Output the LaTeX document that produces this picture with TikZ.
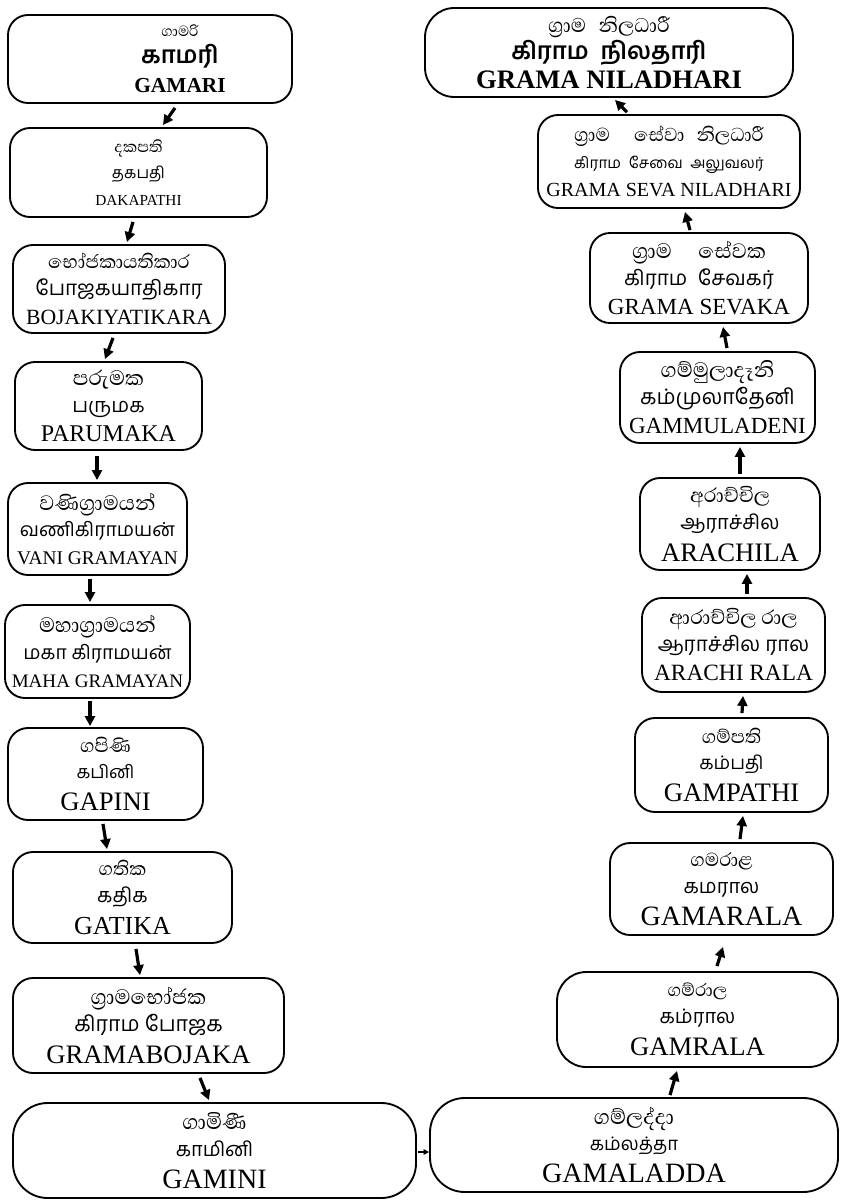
\documentclass[tikz,border=0pt]{standalone}
\usepackage{fontspec}
\setmainfont{Liberation Serif}
\newfontfamily\si[Script=Sinhala]{Abhaya Libre}
\newfontfamily\ta[Script=Tamil]{Hind Madurai}
\newcommand\fs[1]{\fontsize{#1}{#1}\selectfont}
\usetikzlibrary{calc,arrows.meta}

\begin{document}
\begin{tikzpicture}[x=0.75pt,y=-0.75pt,
  rank/.style={draw, line width=1.4pt, rounded corners=15pt, align=center, inner sep=0pt,
    font=\fontsize{10}{20}\selectfont},
  flow/.style={line width=2.4pt, -{Triangle[length=7.5pt,width=7.5pt]}}]
 \useasboundingbox (0,0) rectangle (840,1200);
 % left column, going down
 \node[rank, minimum width=213pt, minimum height=66pt] (gamari) at (150,59)
   {\hspace*{45pt}{\si\fs{14}ගාමරි}\\\hspace*{45pt}{\ta\bfseries\fs{18}காமரி}\\[2pt]\hspace*{45pt}{\bfseries\fs{16}GAMARI}};
 \node[rank, minimum width=192.75pt, minimum height=66.75pt] (dakapathi) at (138.5,172.5)
   {{\si\fs{15}දකපති}\\{\ta\fs{12}தகபதி}\\{\fs{11.5}DAKAPATHI}};
 \node[rank, minimum width=159pt, minimum height=66pt] (bojaka) at (119,289)
   {{\si\fs{18}භෝජකායතිකාර}\\{\ta\fs{15.5}போஜகயாதிகார}\\[2pt]{\fs{16.3}BOJAKIYATIKARA}};
 \node[rank, minimum width=140.25pt, minimum height=66pt] (parumaka) at (108.5,406)
   {{\si\fs{20}පරුමක}\\{\ta\fs{15}பருமக}\\[2pt]{\fs{18}PARUMAKA}};
 \node[rank, minimum width=134.25pt, minimum height=69pt] (vani) at (97.5,529)
   {{\si\fs{20}වණිග්‍රාමයන්}\\{\ta\fs{14.5}வணிகிராமயன்}\\[1pt]{\fs{14.5}VANI GRAMAYAN}};
 \node[rank, minimum width=138.75pt, minimum height=69.75pt] (maha) at (97.5,651.5)
   {{\si\fs{20}මහාග්‍රාමයන්}\\{\ta\fs{14.5}மகா கிராமயன்}\\[1pt]{\fs{14.3}MAHA GRAMAYAN}};
 \node[rank, minimum width=146.25pt, minimum height=69pt] (gapini) at (105.5,774)
   {{\si\fs{18}ගපිණි}\\{\ta\fs{13.5}கபினி}\\[4pt]{\fs{20}GAPINI}};
 \node[rank, minimum width=164.25pt, minimum height=68.25pt] (gatika) at (122.5,897.5)
   {{\si\fs{18}ගතික}\\{\ta\fs{15}கதிக}\\[4pt]{\fs{19.5}GATIKA}};
 \node[rank, minimum width=203.25pt, minimum height=71.25pt] (gramabojaka) at (148.5,1025.5)
   {{\si\fs{20}ග්‍රාමභෝජක}\\{\ta\fs{16}கிராம போஜக}\\[4pt]{\fs{20}GRAMABOJAKA}};
 \node[rank, rounded corners=26pt, minimum width=302.25pt, minimum height=71.25pt] (gamini) at (214.5,1150.5)
   {{\si\fs{20}ගාමිණී}\\{\ta\fs{15}காமினி}\\[4pt]{\fs{21}GAMINI}};
 % right column, going up
 \node[rank, rounded corners=26pt, minimum width=306pt, minimum height=70.5pt] (gamaladda) at (634,1145)
   {{\si\fs{20}ගම්ලද්දා}\\{\ta\fs{14}கம்லத்தா}\\[4pt]{\fs{21}GAMALADDA}};
 \node[rank, rounded corners=22pt, minimum width=210.75pt, minimum height=71.25pt] (gamrala) at (697.5,1019.5)
   {{\si\fs{17}ගම්රාල}\\{\ta\fs{15}கம்ரால}\\[4pt]{\fs{20}GAMRALA}};
 \node[rank, minimum width=167.25pt, minimum height=69pt] (gamarala) at (721.5,889)
   {{\si\fs{18}ගමරාළ}\\{\ta\fs{15}கமரால}\\[4pt]{\fs{21}GAMARALA}};
 \node[rank, minimum width=144.75pt, minimum height=70.5pt] (gampathi) at (731.5,765)
   {{\si\fs{18}ගම්පති}\\{\ta\fs{14}கம்பதி}\\[4pt]{\fs{20}GAMPATHI}};
 \node[rank, minimum width=137.25pt, minimum height=70.5pt] (arachirala) at (733.5,645)
   {{\si\fs{19}ආරාච්චිල රාල}\\{\ta\fs{15.5}ஆராச்சில ரால}\\[2pt]{\fs{17.5}ARACHI RALA}};
 \node[rank, minimum width=135pt, minimum height=69pt] (arachila) at (730,524)
   {{\si\fs{19}අරාච්චිල}\\{\ta\fs{15}ஆராச்சில}\\[4pt]{\fs{20}ARACHILA}};
 \node[rank, minimum width=146.25pt, minimum height=68.25pt] (gammuladeni) at (717.5,397.5)
   {{\si\fs{20}ගම්මුලාදෑනි}\\{\ta\fs{16}கம்முலாதேனி}\\[2pt]{\fs{17.3}GAMMULADENI}};
 \node[rank, minimum width=163.5pt, minimum height=67.5pt] (gramasevaka) at (699,278)
   {{\si\fs{20}ග්‍රාම\quad සේවක}\\{\ta\fs{15.5}கிராம\enspace சேவகர்}\\[2pt]{\fs{17.3}GRAMA SEVAKA}};
 \node[rank, minimum width=196.5pt, minimum height=69.75pt] (sevaniladhari) at (669,161.5)
   {{\si\fs{18}ග්‍රාම\quad සේවා\enspace නිලධාරී}\\{\ta\fs{11.5}கிராம\enspace சேவை\enspace அலுவலர்}\\[1pt]{\fs{15}GRAMA SEVA NILADHARI}};
 \node[rank, rounded corners=22pt, minimum width=276pt, minimum height=66.75pt] (niladhari) at (609,52.5)
   {{\si\fs{19}ග්‍රාම\enspace නිලධාරී}\\{\ta\bfseries\fs{18}கிராம\enspace நிலதாரி}\\[2pt]{\bfseries\fs{20}GRAMA NILADHARI}};
 % arrows
 \draw[flow] ($(gamari.south)+(25,4)$) -- ($(dakapathi.north)+(24.5,-2)$);
 \draw[flow] ($(dakapathi.south)+(-5.5,4)$) -- ($(bojaka.north)+(8,-2)$);
 \draw[flow] ($(bojaka.south)+(-6,4)$) -- ($(parumaka.north)+(-3.5,-2)$);
 \draw[flow] ($(parumaka.south)+(-11.5,5)$) -- ($(vani.north)+(-0.5,-2)$);
 \draw[flow] ($(vani.south)+(-7.5,3)$) -- ($(maha.north)+(-7.5,-2)$);
 \draw[flow] ($(maha.south)+(-7.5,2)$) -- ($(gapini.north)+(-15.5,-1)$);
 \draw[flow] ($(gapini.south)+(-2.5,3)$) -- ($(gatika.north)+(-15.5,-2)$);
 \draw[flow] ($(gatika.south)+(13.5,5)$) -- ($(gramabojaka.north)+(-8.5,-2)$);
 \draw[flow] ($(gramabojaka.south)+(51.5,4)$) -- ($(gamini.north)+(-5.5,-2)$);
 \draw[line width=1.5pt, -{Triangle[length=4pt,width=4pt]}] ($(gamini.east)+(1,1.5)$) -- ($(gamaladda.west)+(0,7)$);
 \draw[flow] ($(gamaladda.north)+(36,-2)$) -- ($(gamrala.south)+(-20.5,3)$);
 \draw[flow] ($(gamrala.north)+(19.5,-5)$) -- ($(gamarala.south)+(1.5,11)$);
 \draw[flow] ($(gamarala.north)+(18.5,-3)$) -- ($(gampathi.south)+(11.5,3)$);
 \draw[flow] ($(gampathi.north)+(10.5,-4)$) -- ($(arachirala.south)+(9.5,3)$);
 \draw[flow] ($(arachirala.north)+(13.5,-3)$) -- ($(arachila.south)+(17,3)$);
 \draw[flow] ($(arachila.north)+(10,-3)$) -- ($(gammuladeni.south)+(22.5,3)$);
 \draw[flow] ($(gammuladeni.north)+(9.5,-3)$) -- ($(gramasevaka.south)+(24,3)$);
 \draw[flow] ($(gramasevaka.north)+(-9,-2)$) -- ($(sevaniladhari.south)+(16,3)$);
 \draw[flow] ($(sevaniladhari.north)+(-42,-2)$) -- ($(niladhari.south)+(6,2)$);
\end{tikzpicture}
\end{document}
